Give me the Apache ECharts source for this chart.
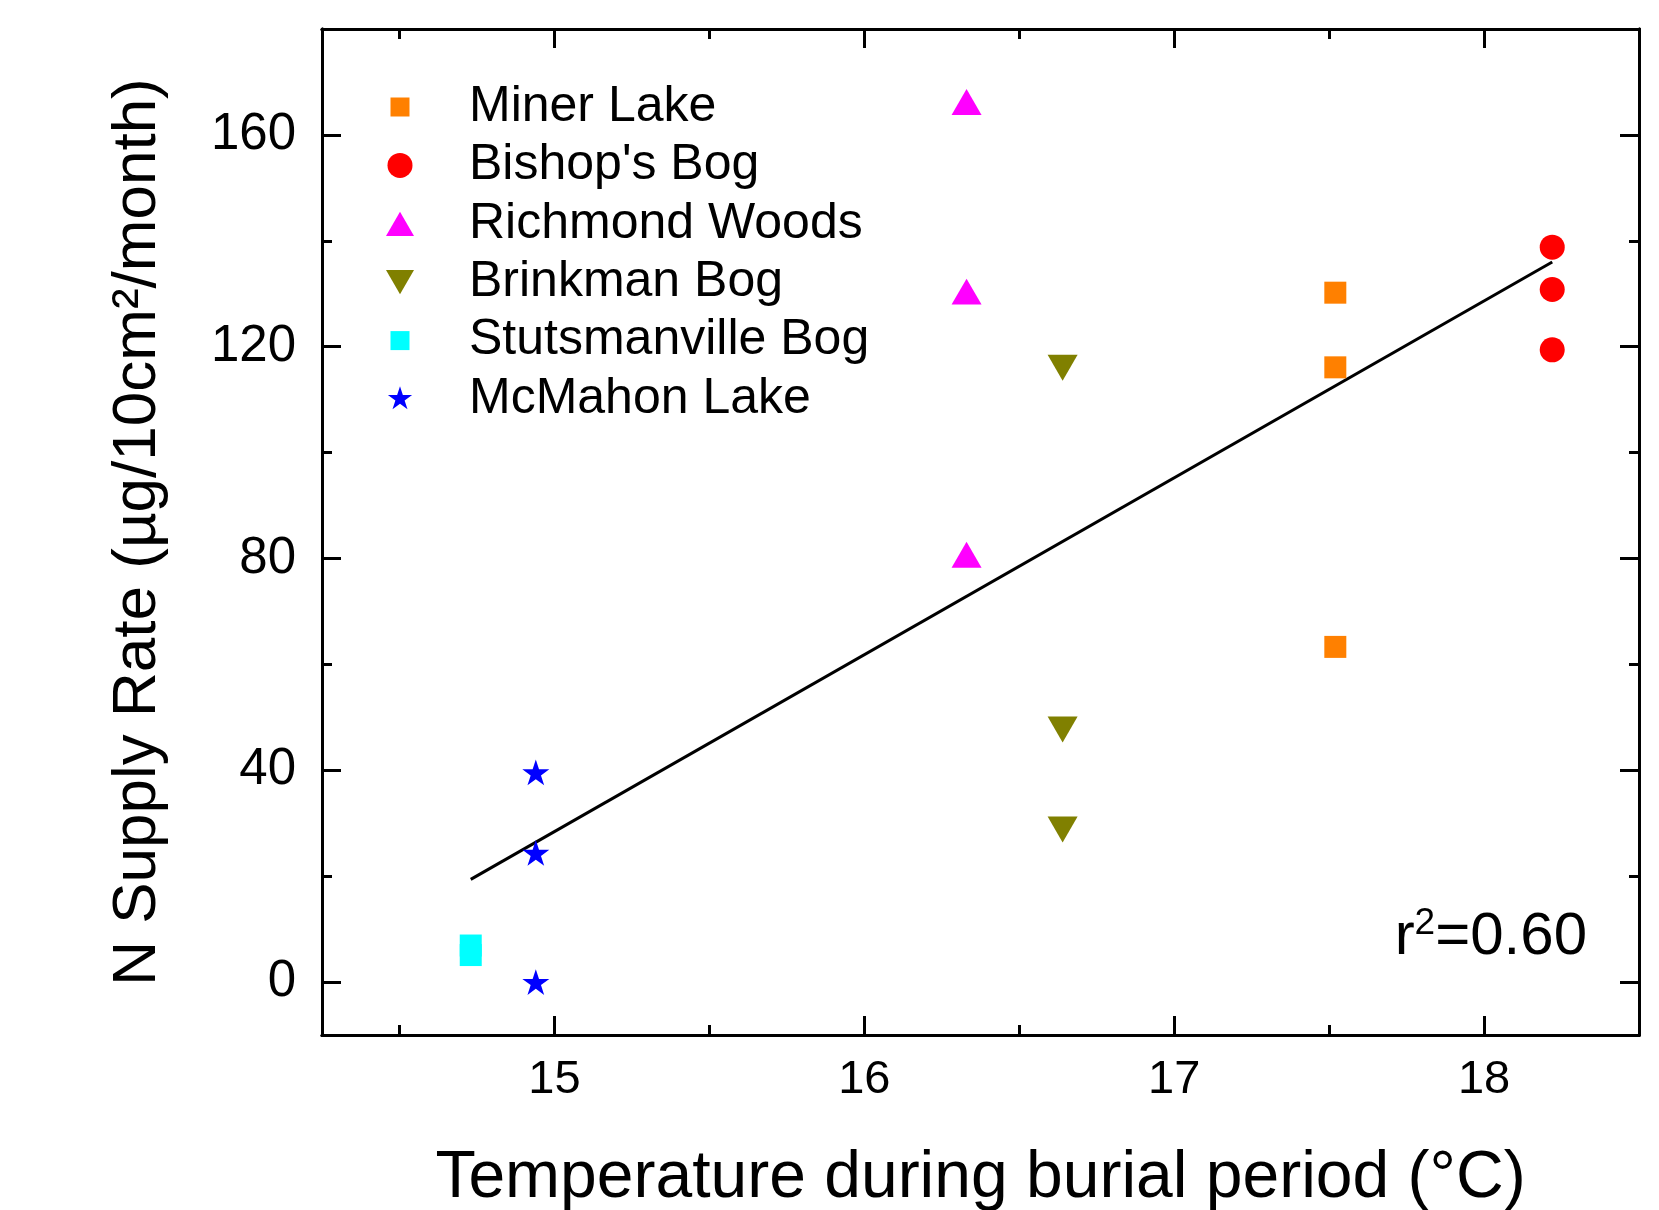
<!DOCTYPE html>
<html>
<head>
<meta charset="utf-8">
<script src="https://cdn.jsdelivr.net/npm/echarts@6/dist/echarts.min.js"></script>
<style>
html,body{margin:0;padding:0;background:#fff;}
#chart{width:1659px;height:1210px;}
</style>
</head>
<body>
<div id="chart"></div>
<script>
// ---- data ----
const seriesNames = ['Miner Lake', "Bishop's Bog", 'Richmond Woods', 'Brinkman Bog', 'Stutsmanville Bog', 'McMahon Lake'];
const minerLake = [[17.52, 130.2], [17.52, 116.1], [17.52, 63.3]];
const bishopsBog = [[18.22, 138.8], [18.22, 130.8], [18.22, 119.4]];
const richmondWoods = [[16.33, 166.2], [16.33, 130.4], [16.33, 80.7]];
const brinkmanBog = [[16.64, 116.0], [16.64, 47.7], [16.64, 28.8]];
const stutsmanvilleBog = [[14.73, 5.1], [14.73, 6.9]];
const mcMahonLake = [[14.94, 39.6], [14.94, 24.4], [14.94, 0]];
const fitLine = [[14.73, 19.4], [18.22, 136.0]];
const xMajorTicks = [15, 16, 17, 18];
const xMinorTicks = [14.5, 15.5, 16.5, 17.5];
const yMajorTicks = [0, 40, 80, 120, 160];
const yMinorTicks = [20, 60, 100, 140];
const xRange = [14.25, 18.5];
const yRange = [-10, 180];
const xTitle = 'Temperature during burial period (\u00B0C)';
const yTitle = 'N Supply Rate (\u00B5g/10cm\u00B2/month)';

// ---- styles ----
const FONT = '"Liberation Sans", Arial, sans-serif';
const colors = ['#FF8000', '#FF0000', '#FF00FF', '#808000', '#00FFFF', '#0000FF'];
const starPath = 'path://M1,0 L1.2245,0.691 L1.951,0.691 L1.363,1.118 L1.588,1.809 L1,1.382 L0.412,1.809 L0.637,1.118 L0.049,0.691 L0.7755,0.691 Z';
const upTri = 'path://M1,0 L2,1.732 L0,1.732 Z';
const downTri = 'path://M0,0 L2,0 L1,1.732 Z';
const symbols = ['rect', 'circle', upTri, downTri, 'rect', starPath];
const sizes = [22, 25, 30, 30, 22, 27];
const datasets = [minerLake, bishopsBog, richmondWoods, brinkmanBog, stutsmanvilleBog, mcMahonLake];
// legend icons (padded so the marks keep the reference's relative sizes inside a 28px box)
const padSquare = 'path://M0,0 L0,0 M28,28 L28,28 M4.5,4.5 L23.5,4.5 L23.5,23.5 L4.5,23.5 Z';
const padCircle = 'path://M0,0 L0,0 M28,28 L28,28 M1.5,14 A12.5,12.5 0 1,1 26.5,14 A12.5,12.5 0 1,1 1.5,14 Z';
const padStar = 'path://M-0.1,-0.05 L-0.1,-0.05 M2.1,2.05 L2.1,2.05 M1,0 L1.2245,0.691 L1.951,0.691 L1.363,1.118 L1.588,1.809 L1,1.382 L0.412,1.809 L0.637,1.118 L0.049,0.691 L0.7755,0.691 Z';
const legendIcons = [padSquare, padCircle, upTri, downTri, padSquare, padStar];

function xAxisDef(pos, ticks, len, labels) {
  return {
    type: 'value', position: pos, min: xRange[0], max: xRange[1],
    splitLine: {show: false},
    axisLine: {show: true, onZero: false, lineStyle: {color: '#000', width: 3}},
    axisTick: {show: true, inside: true, length: len, customValues: ticks, lineStyle: {color: '#000', width: 3}},
    axisLabel: labels ? {show: true, customValues: xMajorTicks, margin: 22, color: '#000', fontSize: 47, fontFamily: FONT} : {show: false},
    name: labels ? xTitle : '',
    nameLocation: 'middle', nameGap: 111,
    nameTextStyle: {color: '#000', fontSize: 66, fontFamily: FONT}
  };
}
function yAxisDef(pos, ticks, len, labels) {
  return {
    type: 'value', position: pos, min: yRange[0], max: yRange[1],
    splitLine: {show: false},
    axisLine: {show: true, onZero: false, lineStyle: {color: '#000', width: 3}},
    axisTick: {show: true, inside: true, length: len, customValues: ticks, lineStyle: {color: '#000', width: 3}},
    axisLabel: labels ? {show: true, customValues: yMajorTicks, margin: 26, color: '#000', fontSize: 51, fontFamily: FONT} : {show: false},
    name: labels ? yTitle : '',
    nameLocation: 'middle', nameGap: 153, nameRotate: 90,
    nameTextStyle: {color: '#000', fontSize: 62, fontFamily: FONT}
  };
}

const series = seriesNames.map((n, i) => ({
  name: n, type: 'scatter', xAxisIndex: 0, yAxisIndex: 0,
  symbol: symbols[i], symbolSize: sizes[i], symbolKeepAspect: true,
  itemStyle: {color: colors[i], opacity: 1},
  data: datasets[i], z: 3
}));
series.push({
  name: 'fit', type: 'line', xAxisIndex: 0, yAxisIndex: 0,
  data: fitLine, showSymbol: false, symbol: 'none',
  lineStyle: {color: '#000', width: 3}, z: 2, silent: true
});

const option = {
  animation: false,
  backgroundColor: '#fff',
  grid: {left: 322, right: 20, top: 29, bottom: 175, outerBoundsMode: 'none', containLabel: false},
  xAxis: [
    xAxisDef('bottom', xMajorTicks, 19, true),
    xAxisDef('bottom', xMinorTicks, 10, false),
    xAxisDef('top', xMajorTicks, 19, false),
    xAxisDef('top', xMinorTicks, 10, false)
  ],
  yAxis: [
    yAxisDef('left', yMajorTicks, 19, true),
    yAxisDef('left', yMinorTicks, 10, false),
    yAxisDef('right', yMajorTicks, 19, false),
    yAxisDef('right', yMinorTicks, 10, false)
  ],
  legend: {
    data: seriesNames.map((n, i) => ({name: n, icon: legendIcons[i]})),
    orient: 'vertical', left: 381, top: 73,
    itemWidth: 28, itemHeight: 28, itemGap: 0.4,
    symbolKeepAspect: true,
    textStyle: {color: '#000', fontSize: 50, fontFamily: FONT, lineHeight: 58, padding: [0, 0, 0, 50]}
  },
  graphic: [{
    type: 'text', right: 72, top: 905,
    style: {
      text: '{a|r}{s|2}{a|=0.60}',
      rich: {
        a: {fontSize: 60, fontFamily: FONT, fill: '#000', color: '#000'},
        s: {fontSize: 37, fontFamily: FONT, fill: '#000', color: '#000', verticalAlign: 'top', padding: [0, 0, 27, 0]}
      }
    }
  }],
  series: series
};

const chart = echarts.init(document.getElementById('chart'), null, {renderer: 'canvas'});
chart.setOption(option);
</script>
</body>
</html>
